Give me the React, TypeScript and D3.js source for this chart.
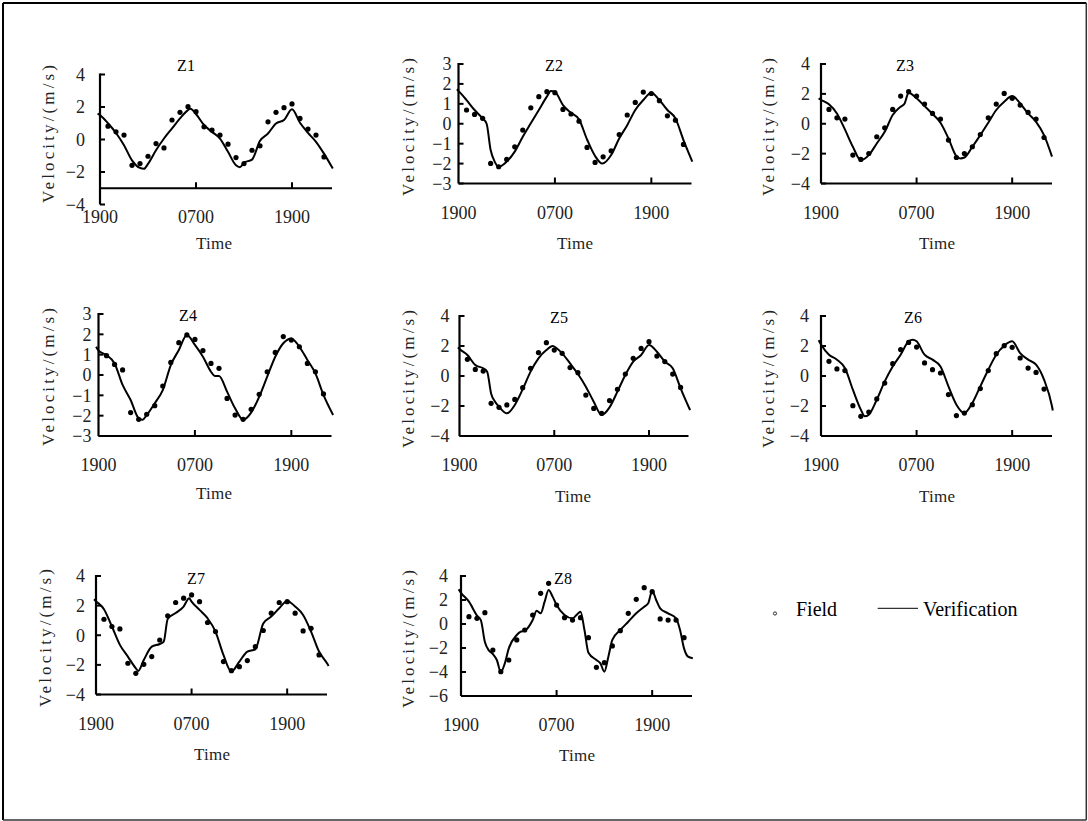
import React from 'react';
import * as d3 from 'd3';

// ---------------- DATA ----------------
const fieldHours = [1, 2, 3, 4, 5, 6, 7, 8, 9, 10, 11, 12, 13, 14, 15, 16, 17, 18, 19, 20, 21, 22, 23, 24, 25, 26, 27, 28];
const timeTicks = [0, 12, 24];
const timeTickLabels = ['1900', '0700', '1900'];
const panelNames = ['Z1', 'Z2', 'Z3', 'Z4', 'Z5', 'Z6', 'Z7', 'Z8'];
const legendLabels = ['Field', 'Verification'];

const fieldZ1 = [0.82, 0.47, 0.27, -1.59, -1.48, -1.03, -0.25, -0.52, 1.2, 1.67, 2.02, 1.71, 0.78, 0.58, 0.27, -0.29, -1.11, -1.48, -0.66, -0.39, 1.09, 1.67, 1.96, 2.19, 1.3, 0.64, 0.27, -1.07];
const fieldZ2 = [0.69, 0.47, 0.27, -1.99, -2.16, -1.79, -1.16, -0.32, 0.8, 1.36, 1.61, 1.56, 0.72, 0.49, 0.13, -1.19, -1.94, -1.66, -1.36, -0.54, 0.44, 1.07, 1.59, 1.52, 1.16, 0.4, 0.18, -1.04];
const fieldZ3 = [0.96, 0.4, 0.31, -2.1, -2.39, -1.99, -0.87, -0.27, 0.96, 1.85, 2.15, 1.85, 1.32, 0.69, 0.31, -1.09, -2.26, -1.99, -1.54, -0.72, 0.4, 1.32, 2.03, 1.7, 1.25, 0.76, 0.31, -0.92];
const fieldZ4 = [0.95, 0.52, 0.25, -1.85, -2.18, -1.93, -1.51, -0.54, 0.62, 1.59, 1.97, 1.75, 1.2, 0.57, 0.33, -1.15, -1.97, -2.18, -1.69, -0.95, 0.16, 1.11, 1.89, 1.72, 1.39, 0.57, 0.16, -0.93];
const fieldZ5 = [1.11, 0.44, 0.33, -1.82, -2.09, -1.93, -1.56, -0.78, 0.51, 1.56, 2.22, 1.73, 1.51, 0.56, 0.22, -1.27, -2.16, -2.49, -1.64, -0.89, 0.13, 1.18, 1.84, 2.29, 1.33, 0.96, 0.13, -0.76];
const fieldZ6 = [0.98, 0.47, 0.36, -1.98, -2.69, -2.4, -1.53, -0.47, 0.82, 1.76, 2.24, 1.93, 0.87, 0.42, 0.2, -1.24, -2.64, -2.47, -1.91, -0.84, 0.36, 1.49, 2.02, 1.91, 1.2, 0.53, 0.24, -0.87];
const fieldZ7 = [1.08, 0.59, 0.43, -1.89, -2.57, -1.96, -1.44, -0.32, 1.31, 2.21, 2.5, 2.72, 2.27, 0.86, 0.25, -1.78, -2.39, -2.12, -1.71, -0.77, 0.32, 1.49, 2.21, 2.27, 1.49, 0.29, 0.47, -1.33];
const fieldZ8 = [0.61, 0.47, 0.94, -2.17, -3.97, -3.0, -1.33, -0.5, 0.75, 2.56, 3.39, 1.58, 0.53, 0.33, 0.53, -1.14, -3.61, -3.22, -1.83, -0.56, 0.89, 2.06, 3.03, 2.69, 0.42, 0.33, 0.33, -1.14];

// verification curves: [hour, velocity]
const verifyZ1: [number, number][] = [[-0.3, 1.6], [0, 1.5], [1, 1.0], [2, 0.4], [3, -0.35], [4, -1.28], [5, -1.75], [5.5, -1.8], [6, -1.5], [7, -0.66], [8, 0.06], [9, 0.68], [10, 1.3], [11, 1.81], [11.3, 1.9], [12, 1.57], [13, 0.89], [14, 0.47], [15, 0.06], [16, -0.76], [17, -1.59], [17.5, -1.7], [18, -1.42], [19, -1.24], [20, -0.08], [21, 0.37], [22, 0.99], [23, 1.2], [24, 1.86], [25, 1.03], [26, 0.41], [27, -0.14], [28, -0.87], [29.1, -1.79]];
const verifyZ2: [number, number][] = [[-0.2, 1.73], [0, 1.65], [1, 1.19], [2, 0.69], [3, 0.27], [3.5, 0.0], [4, -1.32], [4.5, -1.9], [5, -2.16], [6, -1.9], [7, -1.4], [8, -0.65], [9, 0.02], [10, 0.69], [11, 1.36], [11.5, 1.64], [12, 1.6], [13, 0.94], [14, 0.55], [15, 0.22], [16, -0.79], [17, -1.62], [17.9, -2.0], [19, -1.57], [20, -0.74], [21, -0.07], [22, 0.69], [23, 1.19], [24, 1.56], [25, 1.19], [26, 0.69], [27, 0.27], [28, -0.82], [29.1, -1.9]];
const verifyZ3: [number, number][] = [[-0.3, 1.7], [0, 1.6], [1, 1.3], [2, 0.69], [3, -0.38], [4, -1.54], [5, -2.44], [6, -2.1], [7, -1.32], [8, -0.54], [9, 0.58], [10, 1.14], [10.5, 1.36], [11, 2.08], [12, 1.7], [13, 1.18], [14, 0.65], [15, 0.07], [16, -0.98], [17, -2.17], [17.5, -2.32], [18, -2.26], [19, -1.54], [20, -0.76], [21, 0.07], [22, 0.92], [23, 1.47], [24, 1.85], [25, 1.36], [26, 0.69], [27, 0.13], [28, -0.76], [29, -2.2]];
const verifyZ4: [number, number][] = [[-0.3, 1.39], [0, 1.2], [1, 0.98], [2, 0.57], [3, -0.49], [4, -1.23], [5, -2.13], [5.5, -2.2], [6, -1.97], [7, -1.39], [8, -0.74], [9, 0.49], [10, 1.23], [11, 1.97], [12, 1.48], [13, 0.9], [14, 0.16], [14.5, -0.05], [15, -0.05], [16, -0.82], [17, -1.64], [18, -2.2], [19, -1.85], [20, -1.07], [21, -0.08], [22, 0.9], [23, 1.56], [24, 1.8], [25, 1.39], [26, 0.74], [27, 0.08], [28, -0.98], [29.2, -1.97]];
const verifyZ5: [number, number][] = [[-0.2, 1.91], [0, 1.8], [1, 1.4], [2, 0.73], [3, 0.51], [3.5, 0.29], [4, -1.16], [4.5, -1.71], [5, -2.04], [6, -2.49], [7, -1.93], [8, -0.89], [9, 0.29], [10, 1.18], [11, 1.73], [11.8, 2.0], [12, 1.96], [13, 1.51], [14, 0.84], [15, 0.13], [16, -0.71], [17, -1.71], [18, -2.6], [19, -2.09], [20, -1.04], [21, 0.07], [22, 0.96], [23, 1.4], [24, 2.07], [25, 1.62], [26, 0.96], [27, 0.51], [28, -0.82], [29.2, -2.27]];
const verifyZ6: [number, number][] = [[-0.3, 2.38], [0, 2.1], [1, 1.42], [2, 1.09], [3, 0.53], [4, -0.91], [5, -2.24], [5.5, -2.69], [6, -2.58], [7, -1.58], [8, -0.36], [9, 0.64], [10, 1.42], [11, 2.31], [11.5, 2.42], [12, 2.31], [13, 1.42], [14, 1.09], [15, 0.64], [16, -0.69], [17, -1.91], [18, -2.47], [19, -1.8], [20, -0.69], [21, 0.42], [22, 1.42], [23, 2.02], [24, 2.31], [25, 1.53], [26, 1.09], [27, 0.76], [28, -0.24], [29, -2.02], [29.1, -2.3]];
const verifyZ7: [number, number][] = [[-0.25, 2.43], [0, 2.3], [1, 1.76], [2, 0.59], [3, -0.65], [4, -1.44], [5, -2.23], [5.3, -2.41], [6, -1.67], [7, -0.77], [8, -0.59], [8.5, -0.43], [9, 1.1], [10, 1.5], [11, 1.94], [11.7, 2.5], [12, 2.27], [13, 1.71], [14, 1.15], [15, 0.25], [16, -1.33], [17, -2.45], [18, -1.78], [19, -1.1], [20, -0.95], [21, 0.8], [22, 1.26], [23, 1.82], [24, 2.32], [25, 1.94], [26, 1.37], [27, 0.25], [28, -1.1], [29, -1.89], [29.2, -2.07]];
const verifyZ8: [number, number][] = [[-0.3, 2.89], [0, 2.6], [1, 1.86], [2, 0.7], [2.5, 0.3], [3, -1.5], [3.5, -2.2], [4, -2.5], [4.5, -3.0], [5, -4.0], [5.5, -3.28], [6, -2.03], [7, -0.92], [7.5, -0.64], [8, -0.56], [9, 0.33], [9.5, 1.1], [10, 0.89], [10.5, 1.86], [11, 2.83], [11.5, 2.28], [12, 1.58], [13, 0.75], [14, 0.47], [14.5, 0.75], [15, 1.03], [15.5, -0.5], [16, -2.39], [17, -3.0], [17.5, -3.28], [18, -3.97], [18.5, -2.72], [19, -1.33], [20, -0.5], [21, 0.19], [22, 0.89], [23, 1.44], [23.5, 1.72], [24, 2.78], [24.5, 2.0], [25, 1.31], [26, 0.89], [27, 0.47], [27.5, -0.5], [28, -2.03], [28.5, -2.72], [29.1, -2.86]];

const yDomains: [number, number][] = [[-4, 4], [-3, 3], [-4, 4], [-3, 3], [-4, 4], [-4, 4], [-4, 4], [-6, 4]];
const yTickSets = [[4, 2, 0, -2, -4], [3, 2, 1, 0, -1, -2, -3], [4, 2, 0, -2, -4], [3, 2, 1, 0, -1, -2, -3], [4, 2, 0, -2, -4], [4, 2, 0, -2, -4], [4, 2, 0, -2, -4], [4, 2, 0, -2, -4, -6]];
const xAxisValues = [-3, -3, -4, -3, -4, -4, -4, -6];
const fieldSeries = [fieldZ1, fieldZ2, fieldZ3, fieldZ4, fieldZ5, fieldZ6, fieldZ7, fieldZ8];
const verifySeries = [verifyZ1, verifyZ2, verifyZ3, verifyZ4, verifyZ5, verifyZ6, verifyZ7, verifyZ8];

// ---------------- LAYOUT ----------------
const layout = [
  { x: 100, top: 74.5, bottom: 204.5, w: 232, titleX: 186, titleY: 71, timeX: 214, timeY: 249, velX: 48, velY: 134, gap: 15 },
  { x: 458.5, top: 64, bottom: 183.5, w: 233, titleX: 554, titleY: 71, timeX: 575, timeY: 249, velX: 408, velY: 127, gap: 7 },
  { x: 821, top: 64, bottom: 183.5, w: 231, titleX: 905, titleY: 71, timeX: 937, timeY: 249, velX: 768, velY: 127, gap: 11 },
  { x: 98.5, top: 314, bottom: 436, w: 233, titleX: 188, titleY: 321, timeX: 214, timeY: 499, velX: 48, velY: 377, gap: 7 },
  { x: 459.5, top: 316, bottom: 436, w: 229, titleX: 559, titleY: 322.5, timeX: 573, timeY: 502, velX: 408, velY: 379, gap: 10 },
  { x: 821, top: 316, bottom: 436, w: 231, titleX: 913, titleY: 322.5, timeX: 937, timeY: 502, velX: 768, velY: 379, gap: 12 },
  { x: 96, top: 576, bottom: 694.5, w: 231, titleX: 196, titleY: 584, timeX: 212, timeY: 760, velX: 45, velY: 638, gap: 11 },
  { x: 461, top: 576, bottom: 696, w: 231, titleX: 563, titleY: 584, timeX: 577, timeY: 761, velX: 408, velY: 639, gap: 13 },
];

const serif = '"Liberation Serif", "Times New Roman", serif';
const fmt = (v: number) => (v < 0 ? '\u2212' + Math.abs(v) : String(v));

function Panel({ i }: { i: number }) {
  const L = layout[i];
  const [y0, y1] = yDomains[i];
  const x = d3.scaleLinear().domain([0, 29]).range([L.x, L.x + L.w]);
  const y = d3.scaleLinear().domain([y0, y1]).range([L.bottom, L.top]);
  const axisY = y(xAxisValues[i]);
  const line = d3
    .line<[number, number]>()
    .x((d) => x(d[0]))
    .y((d) => y(d[1]))
    .curve(d3.curveMonotoneX);
  const field = fieldSeries[i];
  return (
    <g>
      <text x={L.titleX} y={L.titleY} textAnchor="middle" fontFamily={serif} fontSize={16} fill="#000">
        {panelNames[i]}
      </text>
      {/* verification line */}
      <path d={line(verifySeries[i]) || ''} fill="none" stroke="#000" strokeWidth={2} />
      {/* field points */}
      {field.map((v, k) => (
        <circle key={k} cx={x(fieldHours[k])} cy={y(v)} r={2.6} fill="#000" />
      ))}
      {/* y axis */}
      <line x1={L.x} x2={L.x} y1={y(y1) - 1} y2={y(y0)} stroke="#000" strokeWidth={2.2} />
      {yTickSets[i].map((t) => (
        <g key={t}>
          <line x1={L.x} x2={L.x + 5} y1={y(t)} y2={y(t)} stroke="#000" strokeWidth={2} />
          <text x={L.x - L.gap} y={y(t)} dy="0.35em" textAnchor="end" fontFamily={serif} fontSize={18} fill="#222">
            {fmt(t)}
          </text>
        </g>
      ))}
      {/* x axis */}
      <line x1={L.x} x2={L.x + L.w} y1={axisY} y2={axisY} stroke="#000" strokeWidth={2.2} />
      {timeTicks.map((t, k) => (
        <g key={k}>
          {t > 0 && <line x1={x(t)} x2={x(t)} y1={axisY} y2={axisY - 6} stroke="#000" strokeWidth={2} />}
          <text x={x(t)} y={axisY + 35} textAnchor="middle" fontFamily={serif} fontSize={18} fill="#222">
            {timeTickLabels[k]}
          </text>
        </g>
      ))}
      <text
        x={L.timeX}
        y={L.timeY}
        textAnchor="middle"
        fontFamily={serif}
        fontSize={17}
        fill="#222"
        textLength={36}
        lengthAdjust="spacing"
      >
        Time
      </text>
      <text
        transform={`translate(${L.velX},${L.velY}) rotate(-90)`}
        textAnchor="middle"
        dy="0.35em"
        fontFamily={serif}
        fontSize={17}
        fill="#222"
        textLength={138}
        lengthAdjust="spacing"
      >
        Velocity/(m/s)
      </text>
    </g>
  );
}

export default function App() {
  return (
    <svg
      width={1088}
      height={821}
      style={{ position: 'absolute', left: 0, top: 0, background: '#fff' }}
    >
      <rect x={0} y={0} width={1088} height={821} fill="#fff" />
      <line x1={3} y1={3} x2={1086.3} y2={3} stroke="#000" strokeWidth={2} />
      <line x1={3} y1={3} x2={3} y2={820} stroke="#000" strokeWidth={2} />
      <line x1={1086.3} y1={3} x2={1086.3} y2={820} stroke="#333" strokeWidth={1.5} />
      <line x1={3} y1={820} x2={1086.3} y2={820} stroke="#333" strokeWidth={1.5} />
      {panelNames.map((_, i) => (
        <Panel key={i} i={i} />
      ))}
      {/* legend */}
      <circle cx={775} cy={613.5} r={1.6} fill="none" stroke="#000" strokeWidth={0.8} />
      <text x={796} y={616} fontFamily={serif} fontSize={20} fill="#000">
        {legendLabels[0]}
      </text>
      <line x1={877.7} x2={918} y1={608.3} y2={608.3} stroke="#000" strokeWidth={1} />
      <text x={923} y={616} fontFamily={serif} fontSize={20} fill="#000">
        {legendLabels[1]}
      </text>
    </svg>
  );
}
